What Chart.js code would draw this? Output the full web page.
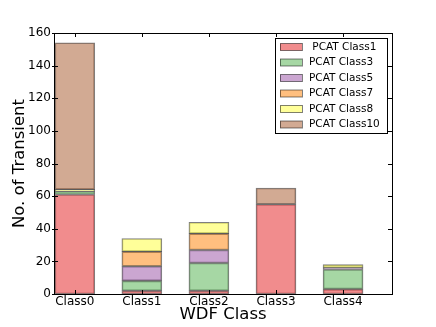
<!DOCTYPE html>
<html>
<head>
<meta charset="utf-8">
<script src="https://cdn.jsdelivr.net/npm/chart.js@4"></script>
<style>
  body { margin: 0; background: #fff; }
  canvas { display: block; }
</style>
</head>
<body>
<canvas id="wdf" width="436" height="327"></canvas>
<script>
const classes = ['Class0', 'Class1', 'Class2', 'Class3', 'Class4']
const seriesNames = [' PCAT Class1', 'PCAT Class3', 'PCAT Class5', 'PCAT Class7', 'PCAT Class8', 'PCAT Class10']
const pcat1 = [61, 2, 2, 55, 3]
const pcat3 = [2, 6, 17, 0, 12]
const pcat5 = [0, 9, 8, 0, 1]
const pcat7 = [0, 9, 10, 0, 0]
const pcat8 = [1, 8, 7, 0, 2]
const pcat10 = [90, 0, 0, 10, 0]
const yTicks = [0, 20, 40, 60, 80, 100, 120, 140, 160]

const colors = [
    'rgba(228, 26, 28, 0.5)',
    'rgba(77, 175, 74, 0.5)',
    'rgba(152, 78, 163, 0.5)',
    'rgba(255, 127, 0, 0.5)',
    'rgba(255, 255, 51, 0.5)',
    'rgba(166, 86, 40, 0.5)'
]
const allSeries = [pcat1, pcat3, pcat5, pcat7, pcat8, pcat10]

const datasets = allSeries.map((values, k) => ({
    label: seriesNames[k],
    data: values.map((v, i) => ({x: i, y: v})),
    backgroundColor: colors[k],
    borderColor: 'rgba(0, 0, 0, 0.5)',
    borderWidth: 1,
    borderSkipped: false,
    barThickness: 40
}))

const font = 'DejaVu Sans'

// matplotlib style: frame on all sides, ticks pointing inward, legend box in the corner
const framePlugin = {
    id: 'frame',
    afterDatasetsDraw(chart) {
        const ctx = chart.ctx
        const a = chart.chartArea
        const xs = chart.scales.x
        const ys = chart.scales.y
        ctx.save()
        ctx.strokeStyle = '#000'
        ctx.lineWidth = 1
        ctx.beginPath()
        for (let i = 0; i < classes.length; i++) {
            const px = Math.round(xs.getPixelForValue(i)) + 0.5
            ctx.moveTo(px, a.bottom); ctx.lineTo(px, a.bottom - 4)
            ctx.moveTo(px, a.top); ctx.lineTo(px, a.top + 4)
        }
        for (let t of yTicks) {
            const py = Math.round(ys.getPixelForValue(t)) + 0.5
            ctx.moveTo(a.left - 2, py); ctx.lineTo(a.left + 4, py)
            ctx.moveTo(a.right, py); ctx.lineTo(a.right - 4, py)
        }
        ctx.stroke()
        ctx.strokeRect(Math.round(a.left) + 0.5, Math.round(a.top) + 0.5,
            Math.round(a.right - a.left), Math.round(a.bottom - a.top))

        const bx = a.right - 117, by = a.top + 5, bw = 112, bh = 95
        ctx.fillStyle = '#fff'
        ctx.fillRect(bx, by, bw, bh)
        ctx.strokeRect(bx + 0.5, by + 0.5, bw, bh)
        ctx.font = '10.5px "' + font + '"'
        ctx.textBaseline = 'middle'
        chart.data.datasets.forEach((ds, k) => {
            const ry = by + 9 + k * 15.5
            ctx.fillStyle = ds.backgroundColor
            ctx.fillRect(bx + 5, ry - 3.5, 22, 7)
            ctx.strokeStyle = 'rgba(0, 0, 0, 0.5)'
            ctx.strokeRect(bx + 5.5, ry - 3.5, 22, 7)
            ctx.fillStyle = '#000'
            ctx.fillText(ds.label, bx + 34, ry)
        })
        ctx.restore()
    }
}

const wdfConfig = {
    type: 'bar',
    data: {datasets: datasets},
    options: {
        responsive: false,
        animation: false,
        layout: {padding: {top: 33, right: 44, left: 0, bottom: 0}},
        plugins: {legend: {display: false}, tooltip: {enabled: false}},
        scales: {
            x: {
                type: 'linear',
                stacked: true,
                offset: false,
                min: -0.31,
                max: 4.73,
                afterBuildTicks: (scale) => { scale.ticks = classes.map((c, i) => ({value: i})) },
                afterFit: (scale) => { scale.height = 33 },
                grid: {display: false, drawTicks: false, tickLength: 0},
                border: {display: false},
                ticks: {
                    callback: (v) => classes[v],
                    color: '#000',
                    padding: 1,
                    maxRotation: 0,
                    font: {family: font, size: 12}
                },
                title: {
                    display: true,
                    text: 'WDF Class',
                    color: '#000',
                    padding: {top: 0, bottom: 2},
                    font: {family: font, size: 16.5}
                }
            },
            y: {
                stacked: true,
                min: 0,
                max: 160,
                afterBuildTicks: (scale) => { scale.ticks = yTicks.map(v => ({value: v})) },
                afterFit: (scale) => { scale.width = 54 },
                grid: {display: false, drawTicks: false, tickLength: 0},
                border: {display: false},
                ticks: {
                    color: '#000',
                    padding: 3,
                    font: {family: font, size: 12}
                },
                title: {
                    display: true,
                    text: 'No. of Transient',
                    color: '#000',
                    padding: {top: 10, bottom: 0},
                    font: {family: font, size: 16.5}
                }
            }
        }
    },
    plugins: [framePlugin]
}

const wdfChart = new Chart(document.getElementById('wdf'), wdfConfig)
</script>
</body>
</html>
